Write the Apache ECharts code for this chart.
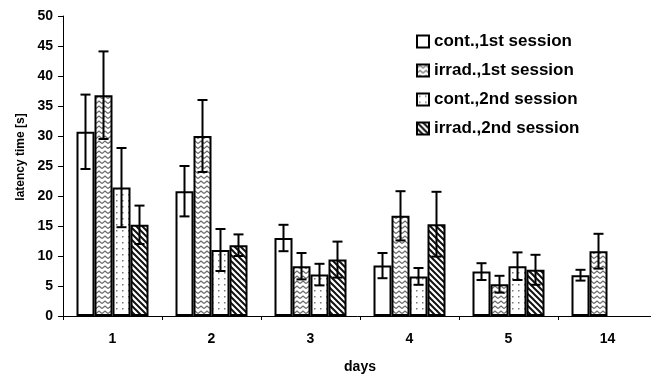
<!DOCTYPE html>
<html><head><meta charset="utf-8">
<script src="https://cdn.jsdelivr.net/npm/echarts@6/dist/echarts.min.js"></script>
<style>html,body{margin:0;padding:0;background:#fff}#c{width:651px;height:374px}</style>
</head><body><div id="c"></div>
<script>
var categories = ['1', '2', '3', '4', '5', '14'];
var seriesNames = ['cont.,1st session', 'irrad.,1st session', 'cont.,2nd session', 'irrad.,2nd session'];
var cont1  = [30.7, 20.8, 13.0, 8.4, 7.4, 6.8];
var irrad1 = [36.8, 30.0, 8.3, 16.7, 5.3, 10.8];
var cont2  = [21.4, 11.0, 6.9, 6.6, 8.3, null];
var irrad2 = [15.2, 11.8, 9.4, 15.3, 7.7, null];
var cont1Err  = [6.2, 4.2, 2.2, 2.1, 1.4, 0.9];
var irrad1Err = [7.3, 6.0, 2.2, 4.1, 1.4, 2.9];
var cont2Err  = [6.6, 3.5, 1.8, 1.4, 2.3, null];
var irrad2Err = [3.2, 1.8, 3.0, 5.4, 2.5, null];
var yTicks = [0, 5, 10, 15, 20, 25, 30, 35, 40, 45, 50];

function makePattern(kind) {
  var c = document.createElement('canvas');
  var ctx = c.getContext('2d');
  if (kind === 'wave') {
    c.width = 6; c.height = 5;
    ctx.fillStyle = '#fff'; ctx.fillRect(0, 0, 6, 5);
    ctx.strokeStyle = '#6a6a6a'; ctx.lineWidth = 1.3;
    ctx.beginPath(); ctx.moveTo(0, 3.5); ctx.lineTo(3, 1); ctx.lineTo(6, 3.5); ctx.stroke();
  } else if (kind === 'dots') {
    c.width = 6; c.height = 6;
    ctx.fillStyle = '#fff'; ctx.fillRect(0, 0, 6, 6);
    ctx.fillStyle = '#777'; ctx.fillRect(2, 2, 1.5, 1.5);
  } else if (kind === 'diag') {
    c.width = 6; c.height = 6;
    ctx.fillStyle = '#fff'; ctx.fillRect(0, 0, 6, 6);
    ctx.strokeStyle = '#111'; ctx.lineWidth = 2;
    ctx.beginPath();
    ctx.moveTo(-3, -3); ctx.lineTo(9, 9);
    ctx.moveTo(-3, 3); ctx.lineTo(3, 9);
    ctx.moveTo(3, -3); ctx.lineTo(9, 3);
    ctx.stroke();
  }
  return c;
}
var fills = ['#ffffff',
  {image: makePattern('wave'), repeat: 'repeat'},
  {image: makePattern('dots'), repeat: 'repeat'},
  {image: makePattern('diag'), repeat: 'repeat'}];
var values = [cont1, irrad1, cont2, irrad2];
var errs = [cont1Err, irrad1Err, cont2Err, irrad2Err];
var BAR_W = 18;
var FONT = 'Liberation Sans, Arial, sans-serif';

var series = [];
values.forEach(function (v, i) {
  series.push({
    name: seriesNames[i], type: 'bar', data: v, barWidth: BAR_W, barGap: '0%',
    itemStyle: {color: fills[i], borderColor: '#000', borderWidth: 2},
    emphasis: {disabled: true}, animation: false
  });
});
values.forEach(function (v, i) {
  var d = [];
  v.forEach(function (val, k) { if (val != null) d.push([k, val, errs[i][k]]); });
  series.push({
    type: 'custom', data: d, z: 10, animation: false, silent: true,
    renderItem: function (params, api) {
      var k = api.value(0), val = api.value(1), e = api.value(2);
      var off = (i - 1.5) * BAR_W;
      var top = api.coord([k, val + e]);
      var bot = api.coord([k, val - e]);
      var x = top[0] + off, cap = 5;
      var st = {stroke: '#000', lineWidth: 2};
      return {type: 'group', children: [
        {type: 'line', shape: {x1: x, y1: top[1], x2: x, y2: bot[1]}, style: st},
        {type: 'line', shape: {x1: x - cap, y1: top[1], x2: x + cap, y2: top[1]}, style: st},
        {type: 'line', shape: {x1: x - cap, y1: bot[1], x2: x + cap, y2: bot[1]}, style: st}
      ]};
    }
  });
});

var chart = echarts.init(document.getElementById('c'));
chart.setOption({
  backgroundColor: '#fff',
  animation: false,
  grid: {left: 63, top: 16, width: 594, height: 300, containLabel: false, outerBoundsMode: 'none'},
  legend: {
    data: seriesNames, orient: 'vertical', left: 411, top: 28,
    itemWidth: 12, itemHeight: 12, itemGap: 12, icon: 'rect',
    textStyle: {fontFamily: FONT, fontWeight: 'bold', fontSize: 17, color: '#000'},
    selectedMode: false
  },
  xAxis: {
    type: 'category', data: categories, name: 'days', nameLocation: 'middle', nameGap: 44,
    nameTextStyle: {fontFamily: FONT, fontWeight: 'bold', fontSize: 14, color: '#000'},
    axisLine: {lineStyle: {color: '#000', width: 1}},
    axisTick: {show: true, length: 4, lineStyle: {color: '#000'}},
    axisLabel: {fontFamily: FONT, fontWeight: 'bold', fontSize: 14, color: '#000', margin: 16}
  },
  yAxis: {
    type: 'value', min: yTicks[0], max: yTicks[yTicks.length - 1], interval: 5,
    name: 'latency time [s]', nameLocation: 'middle', nameGap: 36, nameRotate: 90,
    nameTextStyle: {fontFamily: FONT, fontWeight: 'bold', fontSize: 12, color: '#000', padding: [0, 0, 0, 18]},
    axisLine: {show: true, lineStyle: {color: '#000', width: 1}},
    axisTick: {show: true, length: 5, inside: false, lineStyle: {color: '#000'}},
    splitLine: {show: false},
    axisLabel: {fontFamily: FONT, fontWeight: 'bold', fontSize: 14, color: '#000', margin: 10}
  },
  series: series
});
</script></body></html>
